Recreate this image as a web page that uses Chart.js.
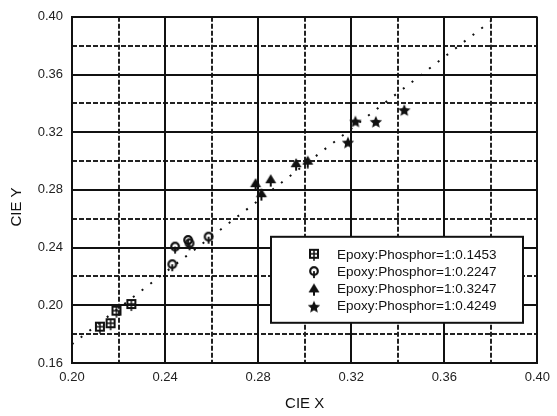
<!DOCTYPE html>
<html>
<head>
<meta charset="utf-8">
<script src="https://cdn.jsdelivr.net/npm/chart.js@4"></script>
<style>
html,body{margin:0;padding:0;background:#fff;}
#wrap{width:557px;height:416px;}
</style>
</head>
<body>
<div id="wrap"><canvas id="c" width="557" height="416"></canvas></div>
<script>
// ---- data ----
const seriesLabels = ['Epoxy:Phosphor=1:0.1453','Epoxy:Phosphor=1:0.2247','Epoxy:Phosphor=1:0.3247','Epoxy:Phosphor=1:0.4249'];
const x1453 = [0.2120, 0.2166, 0.2191, 0.2255];
const y1453 = [0.1845, 0.1869, 0.1956, 0.2002];
const x2247 = [0.2431, 0.2443, 0.2499, 0.2505, 0.2587];
const y2247 = [0.2278, 0.2400, 0.2446, 0.2423, 0.2469];
const x3247 = [0.2789, 0.2814, 0.2854, 0.2963, 0.3013];
const y3247 = [0.2840, 0.2770, 0.2867, 0.2978, 0.2996];
const x4249 = [0.3186, 0.3218, 0.3306, 0.3428];
const y4249 = [0.3128, 0.3274, 0.3272, 0.3353];
const fitX = [0.200, 0.380];
const fitY = [0.173, 0.397];
const xTicks = [0.20, 0.24, 0.28, 0.32, 0.36, 0.40];
const yTicks = [0.16, 0.20, 0.24, 0.28, 0.32, 0.36, 0.40];
const xTitle = 'CIE X';
const yTitle = 'CIE Y';

// ---- marker images ----
function mk(draw){
  const c = document.createElement('canvas'); c.width = 14; c.height = 14;
  const g = c.getContext('2d'); g.fillStyle = '#111'; g.strokeStyle = '#111';
  draw(g); return c;
}
const mSquare = mk(g=>{
  g.lineWidth = 2; g.strokeRect(3,2,8,8);
  g.lineWidth = 1.5; g.beginPath(); g.moveTo(7,2); g.lineTo(7,13); g.moveTo(3,6); g.lineTo(11,6); g.stroke();
});
const mCircle = mk(g=>{
  g.lineWidth = 2.2; g.beginPath(); g.arc(7,6,3.8,0,Math.PI*2); g.stroke();
  g.lineWidth = 1.8; g.beginPath(); g.moveTo(7,6); g.lineTo(7,13); g.stroke();
});
const mTri = mk(g=>{
  g.beginPath(); g.moveTo(7,1); g.lineTo(12.5,10); g.lineTo(1.5,10); g.closePath(); g.fill();
  g.lineWidth = 2; g.beginPath(); g.moveTo(7,9); g.lineTo(7,13.5); g.stroke();
});
const mStar = mk(g=>{
  g.beginPath();
  for(let i=0;i<10;i++){
    const r = i%2===0 ? 6.5 : 3;
    const a = -Math.PI/2 + i*Math.PI/5;
    const px = 7 + r*Math.cos(a), py = 7.5 + r*Math.sin(a);
    if(i===0) g.moveTo(px,py); else g.lineTo(px,py);
  }
  g.closePath(); g.fill();
});
const markers = [mSquare, mCircle, mTri, mStar];

function pts(xs, ys){ return xs.map((x,i)=>({x:x, y:ys[i]})); }

const FONT = "'Liberation Sans', Arial, sans-serif";

const legendPlugin = {
  id: 'boxLegend',
  afterDraw(chart){
    const ctx = chart.ctx, a = chart.chartArea;
    const bx = a.left + 199, by = a.top + 220, bw = 252, bh = 86;
    ctx.save();
    ctx.fillStyle = '#fff'; ctx.fillRect(bx, by, bw, bh);
    ctx.strokeStyle = '#111'; ctx.lineWidth = 2; ctx.strokeRect(bx, by, bw, bh);
    ctx.font = '13.5px ' + FONT; ctx.fillStyle = '#111'; ctx.textBaseline = 'middle'; ctx.textAlign = 'left';
    seriesLabels.forEach((lab, i)=>{
      const yy = by + 18 + i*17.3;
      ctx.drawImage(markers[i], bx + 43 - 7, yy - 7);
      ctx.fillText(lab, bx + 66, yy);
    });
    // axis titles
    ctx.font = '15px ' + FONT; ctx.fillStyle = '#111'; ctx.textAlign = 'center';
    ctx.fillText(xTitle, (a.left + a.right)/2, 404);
    ctx.translate(17, 207); ctx.rotate(-Math.PI/2);
    ctx.fillText(yTitle, 0, 0);
    ctx.restore();
  }
};

const minorColor = (ctx)=> (Math.round(ctx.tick.value*100) % 4 === 0) ? 'rgba(0,0,0,0)' : '#222';

new Chart(document.getElementById('c'), {
  type: 'scatter',
  data: {
    datasets: [
      ...seriesLabels.map((lab,i)=>({
        label: lab,
        data: [pts(x1453,y1453), pts(x2247,y2247), pts(x3247,y3247), pts(x4249,y4249)][i],
        pointStyle: markers[i],
        pointRadius: 7,
        backgroundColor: '#111', borderColor: '#111'
      })),
      {
        label: 'fit', data: pts(fitX, fitY), showLine: true, pointRadius: 0,
        borderColor: '#111', borderWidth: 2, borderDash: [2, 9], fill: false
      }
    ]
  },
  options: {
    responsive: false, animation: false, devicePixelRatio: 1,
    layout: { padding: { top: 16, right: 15, left: 0, bottom: 0 } },
    plugins: { legend: { display: false }, tooltip: { enabled: false } },
    scales: {
      x2: {
        type: 'linear', position: 'bottom', min: 0.20, max: 0.40,
        ticks: { display: false, stepSize: 0.02 },
        grid: { color: minorColor, lineWidth: 2, drawTicks: false },
        border: { display: false, dash: [5, 2] },
        afterFit(s){ s.height = 0; }
      },
      y2: {
        type: 'linear', position: 'left', min: 0.16, max: 0.40,
        ticks: { display: false, stepSize: 0.02 },
        grid: { color: minorColor, lineWidth: 2, drawTicks: false },
        border: { display: false, dash: [5, 2] },
        afterFit(s){ s.width = 0; }
      },
      x: {
        type: 'linear', position: 'bottom', min: 0.20, max: 0.40,
        afterBuildTicks(s){ s.ticks = xTicks.map(v=>({value:v})); },
        ticks: { callback: v => v.toFixed(2), font: { size: 13, family: FONT }, color: '#222', padding: 7, maxRotation: 0 },
        grid: { color: '#111', lineWidth: 2, drawTicks: false },
        border: { display: true, color: '#111', width: 2 },
        afterFit(s){ s.height = 53; }
      },
      y: {
        type: 'linear', position: 'left', min: 0.16, max: 0.40,
        afterBuildTicks(s){ s.ticks = yTicks.map(v=>({value:v})); },
        ticks: { callback: v => v.toFixed(2), font: { size: 13, family: FONT }, color: '#222', padding: 9 },
        grid: { color: '#111', lineWidth: 2, drawTicks: false },
        border: { display: true, color: '#111', width: 2 },
        afterFit(s){ s.width = 72; }
      }
    }
  },
  plugins: [legendPlugin]
});
</script>
</body>
</html>
